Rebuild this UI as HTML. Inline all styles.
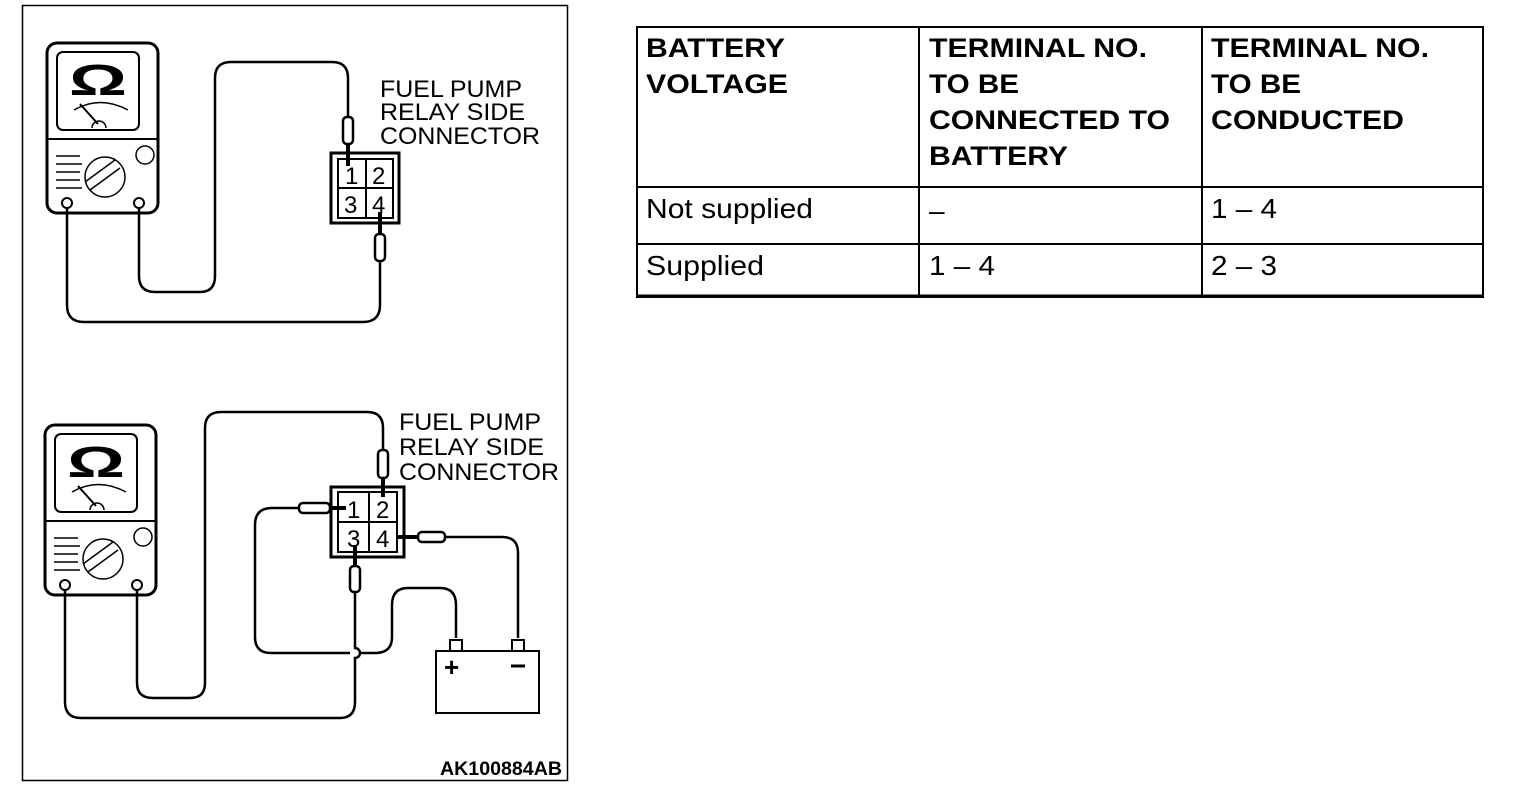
<!DOCTYPE html>
<html><head><style>
html,body{margin:0;padding:0;background:#fff;}
svg{display:block;}
text{font-family:"Liberation Sans",Arial,sans-serif;fill:#000;}
</style></head><body>
<svg width="1520" height="798" viewBox="0 0 1520 798" xmlns="http://www.w3.org/2000/svg">
<defs>
<g id="meter">
  <rect x="47" y="43" width="111" height="170" rx="10" fill="#fff" stroke="#000" stroke-width="3"/>
  <rect x="57" y="52" width="82" height="78" rx="6" fill="none" stroke="#000" stroke-width="2"/>
  <text x="98" y="95" font-size="44" font-weight="bold" text-anchor="middle" textLength="58" lengthAdjust="spacingAndGlyphs">Ω</text>
  <path d="M74 110 Q100 95 128 110" fill="none" stroke="#000" stroke-width="1.5"/>
  <line x1="80" y1="104" x2="98" y2="124" stroke="#000" stroke-width="2"/>
  <path d="M92 128 A7 7 0 0 1 106 128" fill="none" stroke="#000" stroke-width="1.5"/>
  <line x1="47" y1="139" x2="158" y2="139" stroke="#000" stroke-width="2"/>
  <circle cx="105" cy="177" r="20" fill="none" stroke="#000" stroke-width="1.5"/>
  <line x1="90" y1="190" x2="120" y2="168" stroke="#000" stroke-width="1.5"/>
  <line x1="85" y1="182" x2="115" y2="160" stroke="#000" stroke-width="1.5"/>
  <path d="M56 156 H80 M56 164 H82 M56 172 H80 M56 180 H80 M56 188 H82" stroke="#000" stroke-width="1.5"/>
  <circle cx="145" cy="155" r="9" fill="none" stroke="#000" stroke-width="1.5"/>
  <circle cx="67" cy="203" r="5" fill="none" stroke="#000" stroke-width="2"/>
  <circle cx="139" cy="203" r="5" fill="none" stroke="#000" stroke-width="2"/>
</g>
</defs>
<rect x="22.5" y="5.5" width="545" height="775" fill="none" stroke="#000" stroke-width="1.5"/>

<!-- top diagram -->
<use href="#meter"/>
<g fill="none" stroke="#000" stroke-width="2.5">
  <path d="M67 208 V305 Q67 322 84 322 H363 Q380 322 380 305 V262"/>
  <path d="M139 208 V276 Q139 292 155 292 H200 Q215 292 215 276 V78 Q215 62 231 62 H332 Q348 62 348 78 V117"/>
  <rect x="343" y="117" width="10" height="27" rx="4"/>
  <line x1="348" y1="144" x2="348" y2="166" stroke-width="4"/>
  <rect x="375" y="234" width="10" height="27" rx="4"/>
  <line x1="380" y1="234" x2="380" y2="212" stroke-width="4"/>
  <rect x="331" y="153" width="68" height="70" stroke-width="3"/>
  <rect x="338" y="159" width="55" height="59" stroke-width="2"/>
  <line x1="366" y1="159" x2="366" y2="218" stroke-width="2"/>
  <line x1="338" y1="188" x2="393" y2="188" stroke-width="2"/>
</g>
<g font-size="24">
  <text x="345" y="184">1</text><text x="372" y="184">2</text>
  <text x="344" y="213">3</text><text x="372" y="213">4</text>
</g>
<g font-size="24">
  <text x="380" y="97" textLength="142" lengthAdjust="spacingAndGlyphs">FUEL PUMP</text>
  <text x="380" y="120" textLength="145" lengthAdjust="spacingAndGlyphs">RELAY SIDE</text>
  <text x="380" y="144" textLength="160" lengthAdjust="spacingAndGlyphs">CONNECTOR</text>
</g>

<!-- bottom diagram -->
<use href="#meter" transform="translate(-2,382)"/>
<g fill="none" stroke="#000" stroke-width="2.5">
  <path d="M65 590 V702 Q65 718 81 718 H340 Q355 718 355 702 V658 A5 5 0 0 0 355 648 V592"/>
  <rect x="350" y="566" width="10" height="26" rx="4"/>
  <line x1="355" y1="566" x2="355" y2="545" stroke-width="4"/>
  <path d="M137 590 V683 Q137 698 153 698 H190 Q205 698 205 683 V428 Q205 412 221 412 H367 Q383 412 383 428 V450"/>
  <rect x="378" y="450" width="10" height="28" rx="4"/>
  <line x1="383" y1="478" x2="383" y2="497" stroke-width="4"/>
  <line x1="330" y1="508" x2="346" y2="508" stroke-width="4"/>
  <rect x="299" y="503" width="31" height="10" rx="4"/>
  <path d="M299 508 H272 Q255 508 255 525 V637 Q255 653 271 653 H350 M360 653 H375 Q392 653 392 637 V605 Q392 588 408 588 H440 Q456 588 456 605 V638"/>
  <line x1="396" y1="537" x2="418" y2="537" stroke-width="4"/>
  <rect x="418" y="532" width="27" height="10" rx="4"/>
  <path d="M445 537 H502 Q518 537 518 553 V638"/>
  <rect x="331" y="487" width="73" height="70" stroke-width="3"/>
  <rect x="338" y="492" width="59" height="60" stroke-width="2"/>
  <line x1="369" y1="492" x2="369" y2="552" stroke-width="2"/>
  <line x1="338" y1="522" x2="397" y2="522" stroke-width="2"/>
  <rect x="436" y="651" width="103" height="62" stroke-width="2"/>
  <rect x="450" y="640" width="12" height="11" stroke-width="2"/>
  <rect x="512" y="640" width="12" height="11" stroke-width="2"/>
</g>
<g font-size="24">
  <text x="347" y="518">1</text><text x="376" y="518">2</text>
  <text x="347" y="547">3</text><text x="376" y="547">4</text>
</g>
<text x="444" y="676" font-size="26" font-weight="bold">+</text>
<line x1="511" y1="666" x2="525" y2="666" stroke="#000" stroke-width="3"/>
<g font-size="24">
  <text x="399" y="430" textLength="142" lengthAdjust="spacingAndGlyphs">FUEL PUMP</text>
  <text x="399" y="455" textLength="145" lengthAdjust="spacingAndGlyphs">RELAY SIDE</text>
  <text x="399" y="480" textLength="160" lengthAdjust="spacingAndGlyphs">CONNECTOR</text>
</g>
<text x="440" y="775" font-size="19" font-weight="bold" textLength="122" lengthAdjust="spacingAndGlyphs">AK100884AB</text>

<!-- table -->
<g fill="none" stroke="#000">
  <rect x="637" y="27" width="846" height="270" stroke-width="2"/>
  <line x1="637" y1="296" x2="1483" y2="296" stroke-width="3"/>
  <line x1="919" y1="27" x2="919" y2="297" stroke-width="2"/>
  <line x1="1202" y1="27" x2="1202" y2="297" stroke-width="2"/>
  <line x1="637" y1="187" x2="1483" y2="187" stroke-width="2"/>
  <line x1="637" y1="244" x2="1483" y2="244" stroke-width="2"/>
</g>
<g font-size="27" font-weight="bold">
  <text x="646" y="57" textLength="139" lengthAdjust="spacingAndGlyphs">BATTERY</text>
  <text x="646" y="93" textLength="142" lengthAdjust="spacingAndGlyphs">VOLTAGE</text>
  <text x="929" y="57" textLength="218" lengthAdjust="spacingAndGlyphs">TERMINAL NO.</text>
  <text x="929" y="93" textLength="90" lengthAdjust="spacingAndGlyphs">TO BE</text>
  <text x="929" y="129" textLength="241" lengthAdjust="spacingAndGlyphs">CONNECTED TO</text>
  <text x="929" y="165" textLength="139" lengthAdjust="spacingAndGlyphs">BATTERY</text>
  <text x="1211" y="57" textLength="218" lengthAdjust="spacingAndGlyphs">TERMINAL NO.</text>
  <text x="1211" y="93" textLength="90" lengthAdjust="spacingAndGlyphs">TO BE</text>
  <text x="1211" y="129" textLength="193" lengthAdjust="spacingAndGlyphs">CONDUCTED</text>
</g>
<g font-size="28">
  <text x="646" y="218" textLength="167" lengthAdjust="spacingAndGlyphs">Not supplied</text>
  <text x="929" y="220">–</text>
  <text x="1211" y="218" textLength="66" lengthAdjust="spacingAndGlyphs">1 – 4</text>
  <text x="646" y="275" textLength="118" lengthAdjust="spacingAndGlyphs">Supplied</text>
  <text x="929" y="275" textLength="66" lengthAdjust="spacingAndGlyphs">1 – 4</text>
  <text x="1211" y="275" textLength="66" lengthAdjust="spacingAndGlyphs">2 – 3</text>
</g>
</svg>
</body></html>
